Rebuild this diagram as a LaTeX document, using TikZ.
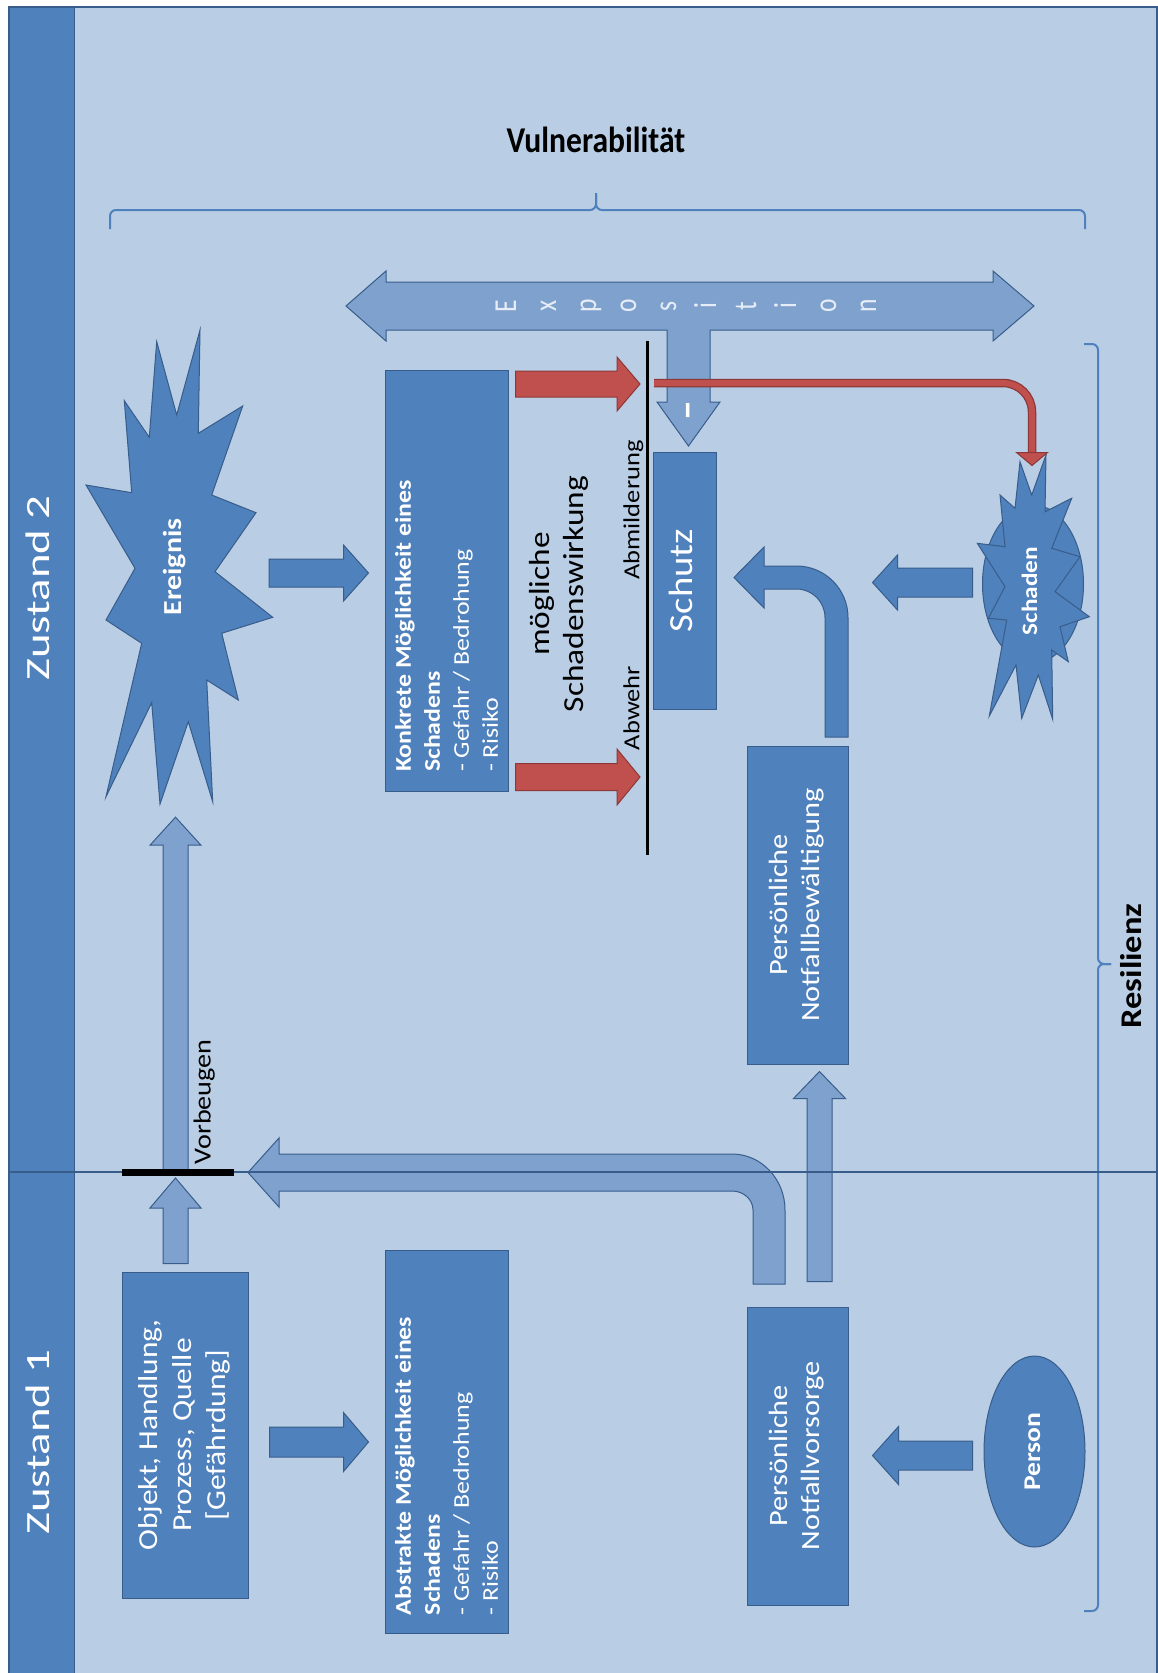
\documentclass[tikz,border=0pt]{standalone}
\usepackage{fontspec}
\setmainfont{Carlito}
\usetikzlibrary{calc,shapes.geometric}
\definecolor{paneblue}{HTML}{B9CDE5}
\definecolor{boxblue}{HTML}{4F81BD}
\definecolor{edgeblue}{HTML}{385D8A}
\definecolor{lightarrow}{HTML}{7FA1CE}
\definecolor{hazardred}{HTML}{C0504D}
\definecolor{hazardedge}{HTML}{8C3836}
\definecolor{letterblue}{HTML}{E6EDF6}

\newcommand{\tstretch}{1.15}
\newcommand{\fsz}[2]{\fontsize{#1}{#2}\selectfont}
% text turned to read upwards, lines centred
\newcommand{\uptext}[2][\tstretch]{\rotatebox{90}{\scalebox{#1}[1]{\begin{tabular}{@{}c@{}}#2\end{tabular}}}}
% text turned to read upwards, lines flush left in a given width
\newcommand{\uplist}[2]{\rotatebox{90}{\scalebox{\tstretch}[1]{\parbox{#1}{\raggedright #2}}}}
% block arrow: [style]{from}{to}{half shaft}{half head}{head length}
\newcommand{\blockarrow}[6][]{%
  \coordinate (bahead) at ($(#3)!#6!(#2)$);
  \draw[#1] ($(#2)!#4!90:(#3)$) -- ($(bahead)!#4!90:(#3)$) -- ($(bahead)!#5!90:(#3)$) -- (#3)
    -- ($(bahead)!#5!-90:(#3)$) -- ($(bahead)!#4!-90:(#3)$) -- ($(#2)!#4!-90:(#3)$) -- cycle;
}

\begin{document}
\begin{tikzpicture}[
  x=1pt, y=-1pt,
  darkbox/.style={
    draw=edgeblue,
    fill=boxblue,
    line width=1pt,
    inner sep=0pt,
    text=white
  },
  lightshaft/.style={draw=edgeblue, fill=lightarrow, line width=1pt},
  darkshaft/.style={draw=edgeblue, fill=boxblue, line width=1pt},
  redshaft/.style={draw=hazardedge, fill=hazardred, line width=1pt},
  bracestyle/.style={draw=boxblue, line width=2pt, rounded corners=6pt},
  guardline/.style={draw=black, line width=3pt},
  lanelabel/.style={text=white, font=\fsz{34}{40}, inner sep=0pt},
  smalllabel/.style={text=black, font=\fsz{23}{27}, inner sep=0pt},
  exposletter/.style={text=letterblue, font=\fsz{32}{36}, inner sep=0pt}
]

  % Page and frame
  \useasboundingbox (0,0) rectangle (1158,1673);
  \fill[white] (0,0) rectangle (1158,1673);
  \draw[edgeblue, line width=2pt, fill=paneblue] (9,7) rectangle (1157,1690);
  \draw[edgeblue, line width=1pt, fill=boxblue] (9,7) rectangle (74,1690);

  % --- Lane labels ---
  \node[lanelabel] (zustand2) at (42,588) {\uptext[1.38]{Zustand 2}};
  \node[lanelabel] (zustand1) at (42,1442) {\uptext[1.38]{Zustand 1}};

  % --- Headings with braces ---
  \node[font=\fsz{31.6}{38}\bfseries, inner sep=0pt] (vuln) at (596,140) {\scalebox{1}[\tstretch]{Vulnerabilität}};
  \draw[bracestyle] (110,229) -- (110,210) -- (596,210) -- (596,193);
  \draw[bracestyle] (596,193) -- (596,210) -- (1085,210) -- (1085,229);

  \node[font=\fsz{30}{36}\bfseries, inner sep=0pt] (resil) at (1134,966) {\uptext{Resilienz}};
  \draw[bracestyle] (1084,344) -- (1098,344) -- (1098,964) -- (1111,964);
  \draw[bracestyle] (1111,964) -- (1098,964) -- (1098,1611) -- (1084,1611);

  % --- Exposition (double arrow with stem) ---
  \draw[lightshaft] (346,306) -- (386,271) -- (386,282) -- (993,282) -- (993,271) -- (1034,306)
    -- (993,341) -- (993,330) -- (710,330) -- (710,402) -- (720,402) -- (688.5,446) -- (657,402)
    -- (667,402) -- (667,330) -- (386,330) -- (386,341) -- cycle;
  \node[exposletter] (expo0) at (509,306) {\uptext[0.8]{E}};
  \node[exposletter] (expo1) at (549,306) {\uptext[0.8]{x}};
  \node[exposletter] (expo2) at (589,306) {\uptext[0.8]{p}};
  \node[exposletter] (expo3) at (629,306) {\uptext[0.8]{o}};
  \node[exposletter] (expo4) at (669,306) {\uptext[0.8]{s}};
  \node[exposletter] (expo5) at (709,306) {\uptext[0.8]{i}};
  \node[exposletter] (expo6) at (749,306) {\uptext[0.8]{t}};
  \node[exposletter] (expo7) at (789,306) {\uptext[0.8]{i}};
  \node[exposletter] (expo8) at (829,306) {\uptext[0.8]{o}};
  \node[exposletter] (expo9) at (869,306) {\uptext[0.8]{n}};
  \node[text=white, font=\fsz{40}{44}\bfseries, inner sep=0pt] (minus) at (691,411) {\uptext[1]{–}};

  % --- Boxes ---
  \node[darkbox, minimum width=126pt, minimum height=326pt, font=\fsz{27.4}{34}] (objekt) at (185,1435)
    {\uptext{Objekt, Handlung,\\Prozess, Quelle\\{[}Gefährdung{]}}};
  \node[darkbox, minimum width=123pt, minimum height=383pt, font=\fsz{22.5}{29}] (abstrakt) at (446.5,1441.5)
    {\uplist{302pt}{\textbf{Abstrakte Möglichkeit eines}\\\textbf{Schadens}\\- Gefahr / Bedrohung\\- Risiko}};
  \node[darkbox, minimum width=123pt, minimum height=421pt, font=\fsz{22.5}{29}] (konkrete) at (446.5,580.5)
    {\uplist{333pt}{\textbf{Konkrete Möglichkeit eines}\\\textbf{Schadens}\\- Gefahr / Bedrohung\\- Risiko}};
  \node[darkbox, minimum width=63pt, minimum height=257pt, font=\fsz{33.7}{40}] (schutz) at (684.5,580.5)
    {\uptext{Schutz}};
  \node[darkbox, minimum width=101pt, minimum height=318pt, font=\fsz{26.4}{32}] (bewaeltigung) at (797.5,905)
    {\uptext{Persönliche\\Notfallbewältigung}};
  \node[darkbox, minimum width=101pt, minimum height=298pt, font=\fsz{26.4}{32}] (vorsorge) at (797.5,1456)
    {\uptext{Persönliche\\Notfallvorsorge}};
  \node[darkbox, ellipse, minimum width=101pt, minimum height=191pt, font=\fsz{24}{28}\bfseries] (person) at (1034.5,1451.5)
    {\uptext{Person}};

  % --- Event burst ---
  \draw[darkshaft] (156.7,341.7) -- (176.7,415) -- (200,330) -- (198.3,433.3) -- (242.7,406) -- (211.7,495)
    -- (256,512.7) -- (215,571.7) -- (272.7,617.3) -- (221.7,633.3) -- (238.3,700) -- (206.7,680)
    -- (212.7,801.7) -- (188.3,721.7) -- (160,804) -- (151.7,702.7) -- (106,796.7) -- (141.7,643.3)
    -- (106,620) -- (135,568.3) -- (86,485) -- (131.7,492.7) -- (124.3,400.7) -- (149.3,437.3) -- cycle;
  \node[text=white, font=\fsz{26}{30}\bfseries, minimum width=187pt, minimum height=474pt, inner sep=0pt] (ereignis) at (175,567)
    {\uptext{Ereignis}};

  % --- Damage burst ---
  \node[darkbox, ellipse, minimum width=101pt, minimum height=158pt] (schaden) at (1033,584) {};
  \draw[darkshaft] (1020,461.7) -- (1031.7,495) -- (1046,455) -- (1045,511.7) -- (1071.7,498.3) -- (1051.7,548.3)
    -- (1080,556.7) -- (1055,591.7) -- (1089.3,616.7) -- (1060,626.7) -- (1068.3,661.7) -- (1051.7,650)
    -- (1052.7,719.3) -- (1038.3,675) -- (1021.7,718.3) -- (1016,665) -- (989.3,716) -- (1006.7,620)
    -- (988.3,618.3) -- (1005,586.7) -- (977.3,543.3) -- (1005,546.7) -- (1000,495) -- (1015,508.3) -- cycle;
  \node[text=white, font=\fsz{22}{26}\bfseries, inner sep=0pt] (schadentext) at (1032,591) {\uptext{Schaden}};

  % --- Labels ---
  \node[font=\fsz{29}{34}, inner sep=0pt] (wirkung) at (560,594) {\uptext{mögliche\\Schadenswirkung}};
  \node[smalllabel] (abwehr) at (634,708) {\uptext{Abwehr}};
  \node[smalllabel] (abmild) at (634,510) {\uptext{Abmilderung}};
  \node[smalllabel, font=\fsz{24.5}{28}] (vorbeugen) at (205,1102) {\uptext{Vorbeugen}};

  % --- Block arrows ---
  \coordinate (prev) at (175.5,1172);
  \coordinate (a1s) at ($(objekt.north -| prev)+(0,-8)$);
  \coordinate (a1e) at ($(prev)+(0,6)$);
  \blockarrow[lightshaft]{a1s}{a1e}{12.5pt}{25.5pt}{30pt}
  \coordinate (a2e) at ($(prev |- ereignis.south)+(0,13)$);
  \blockarrow[lightshaft]{prev}{a2e}{12.5pt}{25.5pt}{28pt}

  \coordinate (a3s) at ($(ereignis.east)+(0.5,6)$);
  \coordinate (a3e) at ($(a3s -| konkrete.west)+(-16,0)$);
  \blockarrow[darkshaft]{a3s}{a3e}{14pt}{28pt}{25pt}
  \coordinate (a4s) at ($(objekt.east)+(21,7)$);
  \coordinate (a4e) at ($(a4s -| abstrakt.west)+(-16,0)$);
  \blockarrow[darkshaft]{a4s}{a4e}{15pt}{29.5pt}{25pt}

  \coordinate (a5s) at ($(schaden.west)+(-9.5,-1.5)$);
  \coordinate (a5e) at ($(a5s -| bewaeltigung.east)+(24,0)$);
  \blockarrow[darkshaft]{a5s}{a5e}{14.5pt}{27.5pt}{25pt}
  \coordinate (a6s) at ($(person.west)+(-11,4)$);
  \coordinate (a6e) at ($(a6s -| vorsorge.east)+(24,0)$);
  \blockarrow[darkshaft]{a6s}{a6e}{14.5pt}{29pt}{26pt}
  \coordinate (a7s) at ($(vorsorge.north)+(22,-25)$);
  \coordinate (a7e) at ($(bewaeltigung.south)+(22,7)$);
  \blockarrow[lightshaft]{a7s}{a7e}{12.5pt}{26pt}{27pt}

  % coping turns back to protection
  \draw[darkshaft] (848,737) -- (848,617.5) .. controls (848,589.06) and (824.94,566) .. (796.5,566)
    -- (764,566) -- (764,547) -- (734,577.5) -- (764,608) -- (764,589) -- (796.5,589)
    .. controls (812.24,589) and (825,601.76) .. (825,617.5) -- (825,737) -- cycle;
  % provision feeds back to prevention
  \draw[lightshaft] (785,1284) -- (785,1210) .. controls (785,1179.07) and (761.27,1154) .. (732,1154)
    -- (279,1154) -- (279,1138) -- (248,1172.5) -- (279,1207) -- (279,1191) -- (732,1191)
    .. controls (743.6,1191) and (753,1199.5) .. (753,1210) -- (753,1284) -- cycle;

  % --- Damage effect at the guard line ---
  \coordinate (guardtop) at (647,341);
  \coordinate (guardbot) at (647,855);
  \coordinate (r1s) at ($(konkrete.north east)+(7,14.5)$);
  \coordinate (r1e) at ($(r1s -| guardtop)+(-7,0)$);
  \coordinate (r2s) at ($(konkrete.south east)+(7,-14.5)$);
  \coordinate (r2e) at ($(r2s -| guardtop)+(-7,0)$);
  \blockarrow[redshaft]{r1s}{r1e}{13pt}{27pt}{23pt}
  \blockarrow[redshaft]{r2s}{r2e}{13.5pt}{28pt}{23pt}
  \draw[guardline] (guardtop) -- (guardbot);

  \coordinate (rls) at ($(r1e)+(14,-1)$);
  \coordinate (rltip) at ($(schaden.north)+(-1,-39)$);
  \draw[hazardedge, line width=8.5pt, rounded corners=29pt] (rls) -- (rls -| rltip) -- ($(rltip)+(0,-12)$);
  \draw[hazardred, line width=6pt, rounded corners=29pt] (rls) -- (rls -| rltip) -- ($(rltip)+(0,-12)$);
  \draw[redshaft] ($(rltip)+(-15.5,-13)$) -- ($(rltip)+(15.5,-13)$) -- (rltip) -- cycle;

  % --- State divider and prevention bar ---
  \draw[edgeblue, line width=1.5pt] (9,1172) -- (1157,1172);
  \draw[black, line width=7pt] (122,1172) -- (234,1172);

\end{tikzpicture}
\end{document}
